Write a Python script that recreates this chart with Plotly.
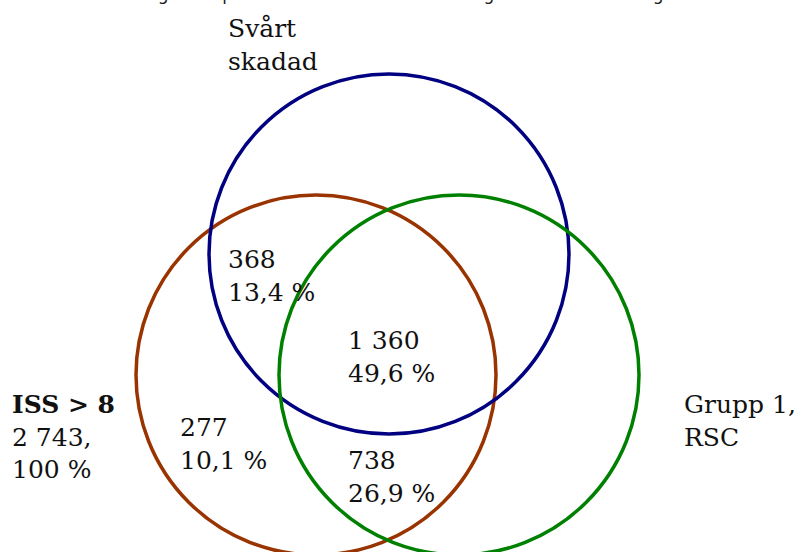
import plotly.graph_objects as go

# ------------------------------------------------------------
# DATA
# ------------------------------------------------------------
set_names = ["<b>ISS > 8</b><br>2 743,<br>100 %", "Svårt<br>skadad", "Grupp 1,<br>RSC"]
set_colors = ["#993300", "#000080", "#008000"]
# circle centres / radius in picture units (x right, y down)
circle_cx = [316, 389, 459]
circle_cy = [375, 254, 375]
circle_r = [180, 180, 180]

region_counts = ["368", "1 360", "277", "738"]
region_shares = ["13,4 %", "49,6 %", "10,1 %", "26,9 %"]
region_x = [226, 346, 178, 346]
region_y = [276, 357, 444, 477]

name_x = [10, 226, 682]
name_y = [437, 45, 421]

title_text = "Ingår vid patientmaterialet under samtliga trauman och triage"

W, H = 806, 552

fig = go.Figure()

# invisible trace so the axes exist
fig.add_trace(go.Scatter(x=[0, W], y=[0, H], mode="markers",
                         marker=dict(opacity=0), hoverinfo="skip",
                         showlegend=False))

############################################################
# CIRCLES
############################################################
for cx, cy, r, col in zip(circle_cx, circle_cy, circle_r, set_colors):
    fig.add_shape(
        type="circle",
        xref="x", yref="y",
        x0=cx - r, x1=cx + r,
        y0=cy - r, y1=cy + r,
        line=dict(color=col, width=3.5),
        fillcolor="rgba(0,0,0,0)",
    )

############################################################
# LABELS
############################################################
serif = dict(family="DejaVu Serif", size=25, color="#111111")

for txt, x, y in zip(set_names, name_x, name_y):
    fig.add_annotation(x=x, y=y, xref="x", yref="y", text=txt,
                       showarrow=False, xanchor="left", yanchor="middle",
                       align="left", font=serif)

for cnt, sh, x, y in zip(region_counts, region_shares, region_x, region_y):
    fig.add_annotation(x=x, y=y, xref="x", yref="y", text=cnt + "<br>" + sh,
                       showarrow=False, xanchor="left", yanchor="middle",
                       align="left", font=serif)

# title, mostly cut off above the picture
fig.add_annotation(x=0.5 + 5 / W, y=1 + 6 / H, xref="paper", yref="paper",
                   text=title_text, showarrow=False,
                   xanchor="center", yanchor="middle",
                   font=dict(family="DejaVu Sans", size=17, color="#222222"))

############################################################
# LAYOUT
############################################################
fig.update_xaxes(range=[0, W], visible=False, fixedrange=True)
fig.update_yaxes(range=[H, 0], visible=False, fixedrange=True)

fig.update_layout(
    width=W,
    height=H,
    margin=dict(l=0, r=0, t=0, b=0),
    plot_bgcolor="white",
    paper_bgcolor="white",
    showlegend=False,
)

fig.write_html("out.html", config={"displayModeBar": False},
               post_script="document.body.style.margin='0';")
